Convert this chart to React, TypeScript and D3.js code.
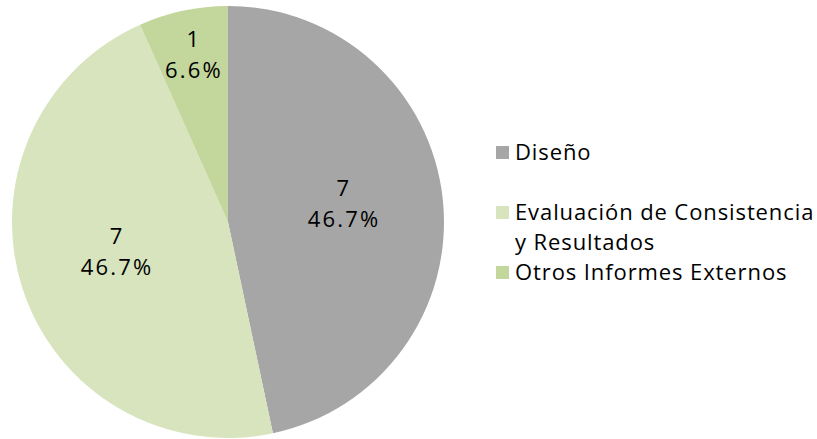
import { useEffect, useRef } from 'react';
import * as d3 from 'd3';

const categories = ['Diseño', 'Evaluación de Consistencia y Resultados', 'Otros Informes Externos'];
const legendLines = [['Diseño'], ['Evaluación de Consistencia', 'y Resultados'], ['Otros Informes Externos']];
const values = [7, 7, 1];
const percentLabels = ['46.7%', '46.7%', '6.6%'];
const colors = ['#a6a6a6', '#d7e4bd', '#c3d69b'];

export default function App() {
  const svgRef = useRef<SVGSVGElement>(null);

  useEffect(() => {
    const width = 817;
    const height = 439;
    const svg = d3.select(svgRef.current);
    svg.selectAll('*').remove();
    svg.attr('width', width).attr('height', height);

    const cx = 228;
    const cy = 222;
    const radius = 216;
    const font = '"Open Sans", "Noto Sans", sans-serif';

    const pie = d3.pie<number>().value(d => d).sort(null);
    const arc = d3.arc<d3.PieArcDatum<number>>().innerRadius(0).outerRadius(radius);

    const g = svg.append('g').attr('transform', `translate(${cx},${cy})`);
    const arcs = g.selectAll('g.slice').data(pie(values)).enter().append('g');

    arcs.append('path')
      .attr('d', arc)
      .attr('fill', (d, i) => colors[i]);

    // small slices get their label pushed further out
    const labelPos = (d: d3.PieArcDatum<number>) => {
      const share = (d.endAngle - d.startAngle) / (2 * Math.PI);
      const r = share < 0.1 ? radius * 0.76 : radius * 0.54;
      const a = (d.startAngle + d.endAngle) / 2;
      return [Math.sin(a) * r, -Math.cos(a) * r];
    };

    const labels = arcs.append('text')
      .attr('transform', d => `translate(${labelPos(d)})`)
      .attr('text-anchor', 'middle')
      .attr('font-family', font)
      .attr('font-size', 22)
      .attr('letter-spacing', 2.2)
      .attr('fill', '#000');
    labels.append('tspan').attr('x', 0).attr('y', -14).text(d => d.data);
    labels.append('tspan').attr('x', 0).attr('y', 17).text((d, i) => percentLabels[i]);

    // legend
    const legendY = [152, 212, 272];
    const legend = svg.append('g');
    categories.forEach((c, i) => {
      legend.append('rect')
        .attr('x', 496).attr('y', legendY[i] - 6)
        .attr('width', 13).attr('height', 13)
        .attr('fill', colors[i]);
      const t = legend.append('text')
        .attr('font-family', font)
        .attr('font-size', 22)
        .attr('letter-spacing', 0.9)
        .attr('fill', '#000');
      legendLines[i].forEach((line, j) => {
        t.append('tspan').attr('x', 515).attr('y', legendY[i] + 8 + j * 30).text(line);
      });
    });
  }, []);

  return <svg ref={svgRef} style={{ position: 'absolute', left: 0, top: 0 }} />;
}
